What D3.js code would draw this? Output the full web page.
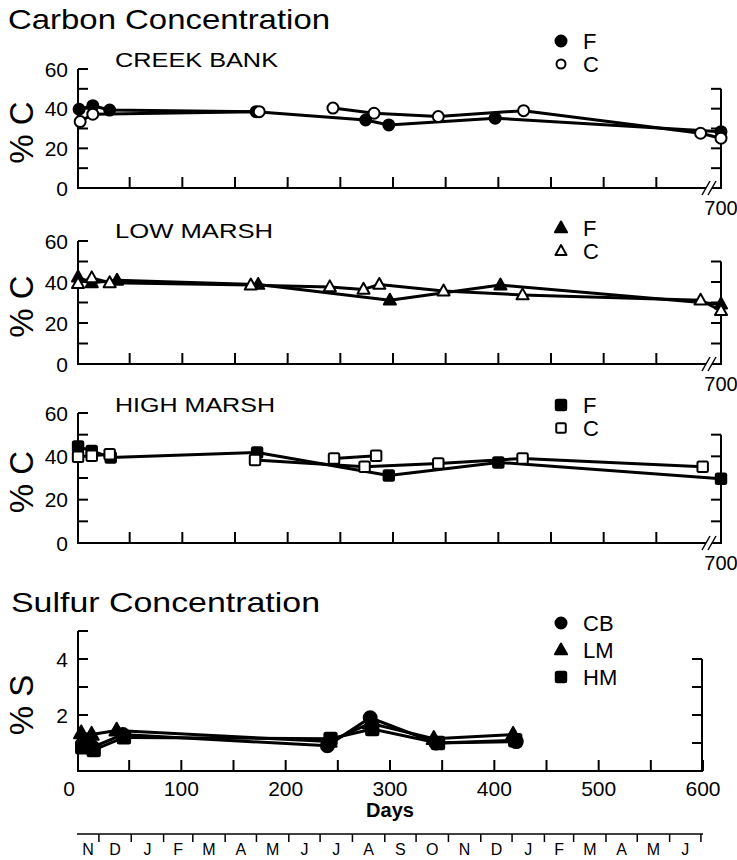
<!DOCTYPE html>
<html><head><meta charset="utf-8">
<script src="https://cdn.jsdelivr.net/npm/d3@7"></script>
<style>
html,body{margin:0;padding:0;background:#fff;}
svg text{font-family:"Liberation Sans","DejaVu Sans",sans-serif;fill:#000;}
</style></head>
<body>
<svg id="chart" width="737" height="860"></svg>
<script>
// ---------------- DATA ----------------
// [day, %C]; C series split where the original line is interrupted
const creekF  = [[2,39.7],[15,41.5],[31,39.3],[170,38.5],[274,34.3],[296,31.8],[397,35.2],[700,28.4]];
const creekC1 = [[3,33.5],[15,37.2],[173,38.5]];
const creekC2 = [[243,40.3],[282,37.7],[343,36.0],[424,39.0],[592,27.6],[700,25.1]];
const lowF  = [[1,42.4],[14,39.6],[38,40.8],[172,38.8],[297,31.1],[402,38.5],[700,29.2]];
const lowC  = [[1,39.2],[14,42.0],[31,39.6],[165,38.5],[240,37.6],[272,36.4],[287,38.8],[348,35.6],[423,33.7],[592,31.1],[700,26.0]];
const highF  = [[1,44.5],[14,42.5],[32,39.5],[171,41.8],[296,31.2],[400,37.2],[700,29.7]];
const highC1 = [[1,39.8],[14,40.3],[31,41.0]];
const highC2 = [[169,38.3],[273,35.2],[343,36.7],[423,39.0],[594,35.2]];
const highC3 = [[244,39.0],[284,40.3]];
// [day, %S]
const sulfCB = [[6,1.0],[15,0.85],[44,1.3],[240,0.9],[281,1.9],[344,1.0],[421,1.05]];
const sulfLM = [[4,1.35],[14,1.3],[38,1.45],[242,1.05],[281,1.7],[342,1.15],[418,1.3]];
const sulfHM = [[5,0.85],[16,0.75],[45,1.2],[243,1.15],[283,1.5],[346,1.0],[420,1.1]];

const carbonLeftTicks = [10,20,30,40,50,60];
const carbonLeftLabels = [0,20,40,60];
const carbonRightTicks = [10,20,30,40,50];
const carbonDayTicks = [50,100,150,200,250,300,350,400,450,500,550];
const sulfLeftTicks = [1,2,3,4,5];
const sulfLeftLabels = [2,4];
const sulfRightTicks = [1,2,3,4];
const sulfDayTicks = [50,100,150,200,250,300,350,400,450,500,550,600];
const sulfDayLabels = [0,100,200,300,400,500,600];
const monthBounds = [21,52,83,111,142,172,203,233,264,295,325,356,387,417,448,476,507,537,568,598];
const monthLabels = ["N","D","J","F","M","A","M","J","J","A","S","O","N","D","J","F","M","A","M","J"];

// ---------------- DRAW ----------------
const svg = d3.select("#chart");
const xC = d3.scaleLinear().domain([0,600,700]).range([77,709,721]);
const xS = d3.scaleLinear().domain([0,600]).range([77,703]);

function marker(g, shape, filled, x, y, size){
  const fill = filled ? "#000" : "#fff";
  if(shape==="circle"){
    g.append("circle").attr("cx",x).attr("cy",y).attr("r",size/2)
      .attr("fill",fill).attr("stroke","#000").attr("stroke-width",2);
  } else if(shape==="triangle"){
    const s=size*1.1, h=s*0.9;
    g.append("path").attr("d",`M${x},${y-h*0.6}L${x+s/2},${y+h*0.4}L${x-s/2},${y+h*0.4}Z`)
      .attr("fill",fill).attr("stroke","#000").attr("stroke-width",2).attr("stroke-linejoin","round");
  } else {
    const s=size*0.95;
    g.append("rect").attr("x",x-s/2).attr("y",y-s/2).attr("width",s).attr("height",s).attr("rx",1.5)
      .attr("fill",fill).attr("stroke","#000").attr("stroke-width",2);
  }
}

function carbonPanel(cfg){
  const y = d3.scaleLinear().domain([0,60]).range([cfg.y0,cfg.y60]);
  const g = svg.append("g");
  g.append("line").attr("x1",78).attr("x2",78).attr("y1",y(60)).attr("y2",y(0)).attr("stroke","#000").attr("stroke-width",2);
  carbonLeftTicks.forEach(d=>{
    g.append("line").attr("x1",78).attr("x2",88).attr("y1",y(d)).attr("y2",y(d)).attr("stroke","#000").attr("stroke-width",2);
  });
  carbonLeftLabels.forEach(d=>{
    g.append("text").attr("x",68).attr("y",y(d)).attr("dy","0.36em").attr("text-anchor","end")
      .attr("font-size",21).text(d);
  });
  g.append("line").attr("x1",721).attr("x2",721).attr("y1",y(50)).attr("y2",y(0)).attr("stroke","#000").attr("stroke-width",2);
  carbonRightTicks.forEach(d=>{
    g.append("line").attr("x1",711).attr("x2",721).attr("y1",y(d)).attr("y2",y(d)).attr("stroke","#000").attr("stroke-width",2);
  });
  g.append("line").attr("x1",77).attr("x2",xC(600)-3).attr("y1",y(0)).attr("y2",y(0)).attr("stroke","#000").attr("stroke-width",2);
  g.append("line").attr("x1",xC(600)+3).attr("x2",722).attr("y1",y(0)).attr("y2",y(0)).attr("stroke","#000").attr("stroke-width",2);
  [-3,3].forEach(o=>{
    g.append("line").attr("x1",xC(600)+o-4).attr("x2",xC(600)+o+4).attr("y1",y(0)+7).attr("y2",y(0)-7)
      .attr("stroke","#000").attr("stroke-width",1.5);
  });
  carbonDayTicks.forEach(d=>{
    g.append("line").attr("x1",xC(d)).attr("x2",xC(d)).attr("y1",y(0)).attr("y2",y(0)-11).attr("stroke","#000").attr("stroke-width",2);
  });
  g.append("text").attr("x",xC(700)).attr("y",y(0)+20).attr("dy","0.36em").attr("text-anchor","middle")
    .attr("font-size",20).text("700");
  g.append("text").attr("transform",`translate(33,${(y(0)+y(60))/2+4}) rotate(-90)`).attr("text-anchor","middle")
    .attr("font-size",33).text("% C");
  g.append("text").attr("x",115).attr("y",cfg.titleY).attr("font-size",21)
    .attr("textLength",cfg.titleLen).attr("lengthAdjust","spacingAndGlyphs").text(cfg.title);
  const line = d3.line().x(d=>xC(d[0])).y(d=>y(d[1]));
  cfg.series.forEach(s=>{
    g.append("path").attr("d",line(s)).attr("fill","none").attr("stroke","#000").attr("stroke-width",3).attr("stroke-linejoin","round");
  });
  cfg.F.forEach(d=>marker(g,cfg.shape,true,xC(d[0]),y(d[1]),11));
  cfg.C.forEach(d=>marker(g,cfg.shape,false,xC(d[0]),y(d[1]),11));
  marker(g,cfg.shape,true,561,cfg.legY,11);
  g.append("text").attr("x",583).attr("y",cfg.legY).attr("dy","0.36em").attr("font-size",22).text("F");
  marker(g,cfg.shape,false,561,cfg.legY+23,cfg.shape==="circle"?9:10);
  g.append("text").attr("x",583).attr("y",cfg.legY+23).attr("dy","0.36em").attr("font-size",22).text("C");
}

svg.append("text").attr("x",8).attr("y",29).attr("font-size",28)
  .attr("textLength",322).attr("lengthAdjust","spacingAndGlyphs").text("Carbon Concentration");

carbonPanel({y0:188,y60:69,title:"CREEK BANK",titleLen:163,titleY:67,shape:"circle",
  F:creekF,C:creekC1.concat(creekC2),series:[creekF,creekC1,creekC2],legY:41});
carbonPanel({y0:364,y60:241,title:"LOW MARSH",titleLen:158,titleY:238,shape:"triangle",
  F:lowF,C:lowC,series:[lowF,lowC],legY:228});
carbonPanel({y0:543,y60:413,title:"HIGH MARSH",titleLen:160,titleY:412,shape:"square",
  F:highF,C:highC1.concat(highC2,highC3),series:[highF,highC1,highC2,highC3],legY:405});

// ---------------- SULFUR ----------------
(function(){
  const y = d3.scaleLinear().domain([0,5]).range([771,631]);
  const g = svg.append("g");
  g.append("text").attr("x",11).attr("y",612).attr("font-size",28)
    .attr("textLength",309).attr("lengthAdjust","spacingAndGlyphs").text("Sulfur Concentration");
  g.append("line").attr("x1",78).attr("x2",78).attr("y1",y(5)).attr("y2",y(0)).attr("stroke","#000").attr("stroke-width",2);
  sulfLeftTicks.forEach(d=>{
    g.append("line").attr("x1",78).attr("x2",88).attr("y1",y(d)).attr("y2",y(d)).attr("stroke","#000").attr("stroke-width",2);
  });
  sulfLeftLabels.forEach(d=>{
    g.append("text").attr("x",68).attr("y",y(d)).attr("dy","0.36em").attr("text-anchor","end").attr("font-size",21).text(d);
  });
  g.append("line").attr("x1",702).attr("x2",702).attr("y1",y(4)).attr("y2",y(0)).attr("stroke","#000").attr("stroke-width",2);
  sulfRightTicks.forEach(d=>{
    g.append("line").attr("x1",692).attr("x2",702).attr("y1",y(d)).attr("y2",y(d)).attr("stroke","#000").attr("stroke-width",2);
  });
  g.append("line").attr("x1",77).attr("x2",703).attr("y1",y(0)).attr("y2",y(0)).attr("stroke","#000").attr("stroke-width",2);
  sulfDayTicks.forEach(d=>{
    g.append("line").attr("x1",xS(d)).attr("x2",xS(d)).attr("y1",y(0)).attr("y2",y(0)-11).attr("stroke","#000").attr("stroke-width",2);
  });
  sulfDayLabels.forEach(d=>{
    g.append("text").attr("x",xS(d)-(d===0?8:0)).attr("y",788).attr("dy","0.36em").attr("text-anchor","middle").attr("font-size",21).text(d);
  });
  g.append("text").attr("x",390).attr("y",817).attr("text-anchor","middle").attr("font-size",20).attr("font-weight","bold").text("Days");
  g.append("text").attr("transform",`translate(33,${(y(0)+y(5))/2+4}) rotate(-90)`).attr("text-anchor","middle")
    .attr("font-size",33).text("% S");
  const line = d3.line().x(d=>xS(d[0])).y(d=>y(d[1]));
  [sulfCB,sulfLM,sulfHM].forEach(s=>{
    g.append("path").attr("d",line(s)).attr("fill","none").attr("stroke","#000").attr("stroke-width",3);
  });
  sulfHM.forEach(d=>marker(g,"square",true,xS(d[0]),y(d[1]),13));
  sulfLM.forEach(d=>marker(g,"triangle",true,xS(d[0]),y(d[1]),13));
  sulfCB.forEach(d=>marker(g,"circle",true,xS(d[0]),y(d[1]),13));
  const leg=[["circle","CB",623],["triangle","LM",650],["square","HM",677]];
  leg.forEach(l=>{
    marker(g,l[0],true,561,l[2],11);
    g.append("text").attr("x",583).attr("y",l[2]).attr("dy","0.36em").attr("font-size",22).text(l[1]);
  });
  const ly=834;
  g.append("line").attr("x1",xS(0)).attr("x2",xS(600)).attr("y1",ly).attr("y2",ly).attr("stroke","#000").attr("stroke-width",1.5);
  monthBounds.forEach(d=>{
    g.append("line").attr("x1",xS(d)).attr("x2",xS(d)).attr("y1",ly).attr("y2",ly+8).attr("stroke","#000").attr("stroke-width",1.5);
  });
  const edges=[0].concat(monthBounds);
  monthLabels.forEach((m,i)=>{
    const mid=(edges[i]+edges[i+1])/2;
    g.append("text").attr("x",xS(mid)).attr("y",855).attr("text-anchor","middle").attr("font-size",16).text(m);
  });
})();
</script>
</body></html>
